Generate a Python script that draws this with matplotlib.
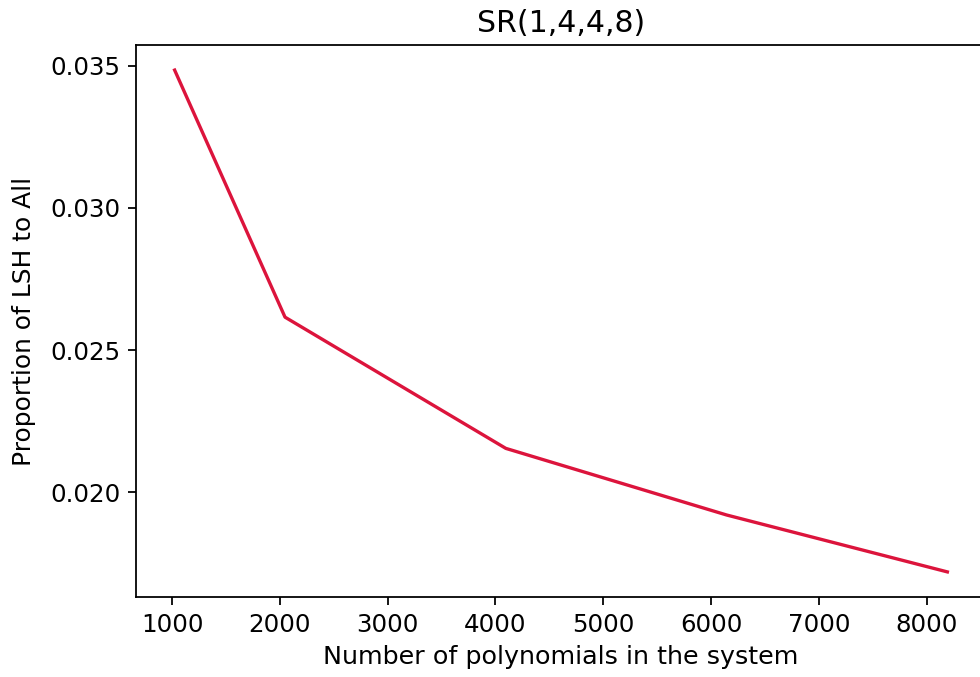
import numpy as np
import matplotlib.pyplot as plt
from matplotlib.ticker import MultipleLocator

# number of polynomials vs proportion LSH/All
n_polys = [1024, 2048, 4096, 6144, 8192]
proportion = [0.03484, 0.02616, 0.02155, 0.01921, 0.01721]

plt.rcParams['font.size'] = 11

fig = plt.figure(figsize=(980/160, 677/160), dpi=160)
ax = fig.add_axes([136/980, 80/677, 850/980, 552/677])

ax.plot(n_polys, proportion, color='crimson', linewidth=1.5)
ax.yaxis.set_major_locator(MultipleLocator(0.005))
ax.set_title('SR(1,4,4,8)', fontsize=13.5)
ax.set_xlabel('Number of polynomials in the system', fontsize=11.4)
ax.set_ylabel('Proportion of LSH to All', fontsize=11.2, labelpad=6.5)

plt.savefig('out.png', dpi=160)
